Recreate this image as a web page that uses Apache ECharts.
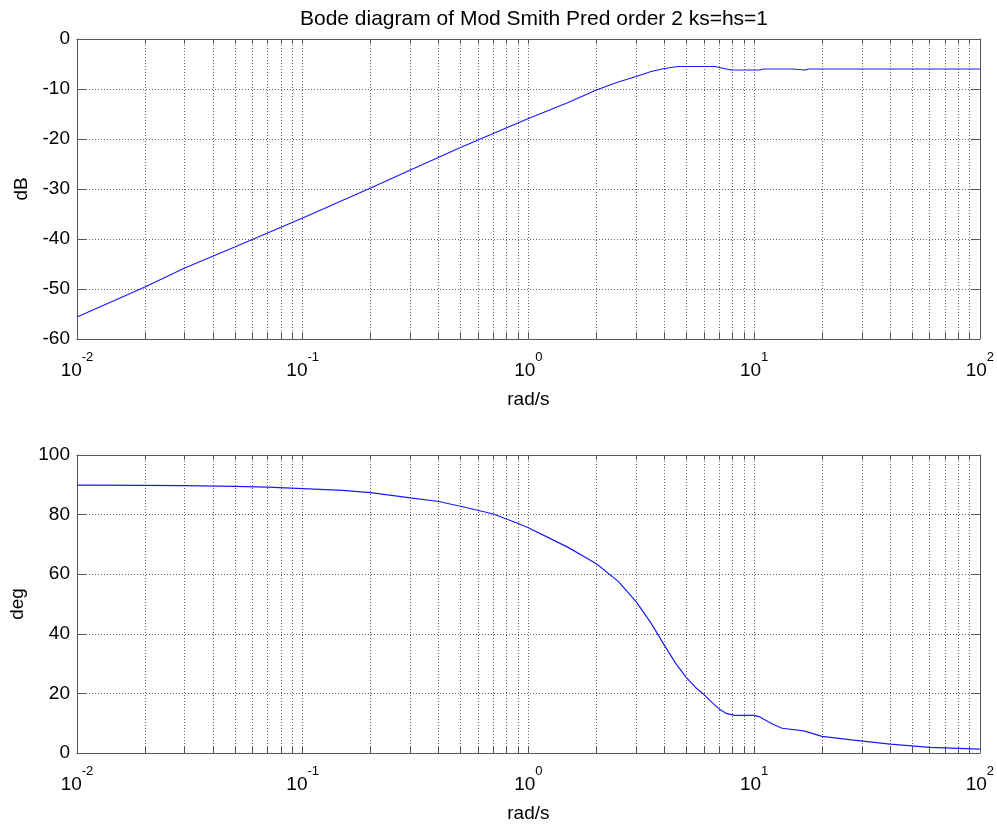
<!DOCTYPE html>
<html>
<head>
<meta charset="utf-8">
<script src="https://cdn.jsdelivr.net/npm/echarts@6/dist/echarts.min.js"></script>
<style>
html,body{margin:0;padding:0;background:#fff;}
#chart{width:997px;height:824px;}
</style>
</head>
<body>
<div id="chart"></div>
<script>
// ---- data ----
var titleText = 'Bode diagram of Mod Smith Pred order 2 ks=hs=1';
var magFreq = [0.01, 0.02, 0.03, 0.05, 0.1, 0.2, 0.3, 0.5, 1, 1.5, 2, 2.5, 3, 3.5, 4, 4.6, 6.7, 7.9, 10.6, 11, 14.7, 16.8, 17.5, 100];
var magDb   = [-55.6, -49.6, -45.8, -41.6, -35.8, -29.8, -26.2, -21.7, -15.9, -12.7, -10.2, -8.6, -7.5, -6.5, -5.9, -5.5, -5.5, -6.2, -6.2, -6.0, -6.0, -6.2, -6.0, -6.0];
var phaseFreq = [0.01, 0.02, 0.03, 0.05, 0.07, 0.1, 0.15, 0.2, 0.3, 0.4, 0.5, 0.7, 0.9, 1.0, 1.2, 1.5, 2.0, 2.5, 3.0, 3.5, 4.0, 4.5, 5.0, 5.5, 6.0, 6.5, 7.0, 7.5, 8.2, 10, 10.6, 12, 13.3, 16.6, 20, 27, 40, 60, 100];
var phaseDeg  = [89.9, 89.8, 89.7, 89.5, 89.2, 88.7, 88.1, 87.4, 85.6, 84.4, 82.8, 80.2, 77.0, 75.6, 72.6, 69.0, 63.5, 57.6, 50.8, 43.5, 36.2, 30.0, 25.4, 22.0, 19.6, 17.0, 14.8, 13.3, 12.6, 12.6, 12.1, 9.8, 8.3, 7.4, 5.6, 4.4, 3.0, 1.9, 1.3];
var decades = [0.01, 0.1, 1, 10, 100];
var mantissas = [1, 2, 3, 4, 5, 6, 7, 8, 9];
var magTicks = [-60, -50, -40, -30, -20, -10, 0];
var phaseTicks = [0, 20, 40, 60, 80, 100];

// ---- build ----
var xTickValues = [];
decades.forEach(function (d, i) {
  if (i === decades.length - 1) { xTickValues.push(d); return; }
  mantissas.forEach(function (m) { xTickValues.push(+(m * d).toPrecision(6)); });
});
function zip(a, b) { return a.map(function (v, i) { return [v, b[i]]; }); }

var FONT = '"Liberation Sans", Arial, Helvetica, sans-serif';
var AX = '#555';
var GRIDC = '#666';
var DASH = [1, 2];

function xMain(gridIndex) {
  return {
    type: 'log', logBase: 10, gridIndex: gridIndex, min: 0.01, max: 100, position: 'bottom',
    name: 'rad/s', nameLocation: 'middle', nameGap: 51,
    nameTextStyle: { fontFamily: FONT, fontSize: 19, color: '#000' },
    axisLine: { show: true, onZero: false, lineStyle: { color: AX, width: 1 } },
    axisTick: { show: true, inside: true, length: 7, customValues: xTickValues, lineStyle: { color: AX } },
    splitLine: { show: true, lineStyle: { color: GRIDC, type: DASH, width: 1 } },
    minorTick: { show: false }, minorSplitLine: { show: false },
    axisLabel: {
      customValues: decades, margin: 12, color: '#000',
      formatter: function (v) { return '{b|10}{e|' + Math.round(Math.log10(v)) + '}'; },
      rich: {
        b: { fontFamily: FONT, fontSize: 19, lineHeight: 40, color: '#000' },
        e: { fontFamily: FONT, fontSize: 13, lineHeight: 13, verticalAlign: 'top', color: '#000' }
      }
    }
  };
}
function xTop(gridIndex) {
  return {
    type: 'log', logBase: 10, gridIndex: gridIndex, min: 0.01, max: 100, position: 'top',
    axisLine: { show: true, onZero: false, lineStyle: { color: AX, width: 1 } },
    axisTick: { show: true, inside: true, length: 5, customValues: xTickValues, lineStyle: { color: AX } },
    splitLine: { show: false }, axisLabel: { show: false }
  };
}
function yMain(gridIndex, min, max, interval, name, ticks) {
  return {
    type: 'value', gridIndex: gridIndex, min: min, max: max, interval: interval, position: 'left',
    name: name, nameLocation: 'middle', nameGap: 45, nameRotate: 90,
    nameTextStyle: { fontFamily: FONT, fontSize: 19, color: '#000' },
    axisLine: { show: true, onZero: false, lineStyle: { color: AX, width: 1 } },
    axisTick: { show: true, inside: true, length: 9, lineStyle: { color: AX } },
    splitLine: { show: true, lineStyle: { color: GRIDC, type: DASH, width: 1 } },
    axisLabel: { customValues: ticks, fontFamily: FONT, fontSize: 19, color: '#000', margin: 7 }
  };
}
function yRight(gridIndex, min, max, interval) {
  return {
    type: 'value', gridIndex: gridIndex, min: min, max: max, interval: interval, position: 'right',
    axisLine: { show: true, onZero: false, lineStyle: { color: AX, width: 1 } },
    axisTick: { show: true, inside: true, length: 9, lineStyle: { color: AX } },
    splitLine: { show: false }, axisLabel: { show: false }
  };
}

var chart = echarts.init(document.getElementById('chart'), null, { renderer: 'canvas' });
chart.setOption({
  backgroundColor: '#fff',
  animation: false,
  title: {
    text: titleText, left: 529, top: 4, textAlign: 'center',
    textStyle: { fontFamily: FONT, fontSize: 21, fontWeight: 'normal', color: '#000' }
  },
  grid: [
    { left: 77, right: 13, top: 39, height: 300, containLabel: false },
    { left: 77, right: 13, top: 455, height: 300, containLabel: false }
  ],
  xAxis: [xMain(0), xTop(0), xMain(1), xTop(1)],
  yAxis: [
    yMain(0, -60, 0, 10, 'dB', magTicks), yRight(0, -60, 0, 10),
    yMain(1, 0, 100, 20, 'deg', phaseTicks), yRight(1, 0, 100, 20)
  ],
  series: [
    { type: 'line', xAxisIndex: 0, yAxisIndex: 0, data: zip(magFreq, magDb), showSymbol: false,
      smooth: false, lineStyle: { color: '#1a1aff', width: 1.2 } },
    { type: 'line', xAxisIndex: 2, yAxisIndex: 2, data: zip(phaseFreq, phaseDeg), showSymbol: false,
      smooth: false, lineStyle: { color: '#1a1aff', width: 1.2 } }
  ]
});
</script>
</body>
</html>
